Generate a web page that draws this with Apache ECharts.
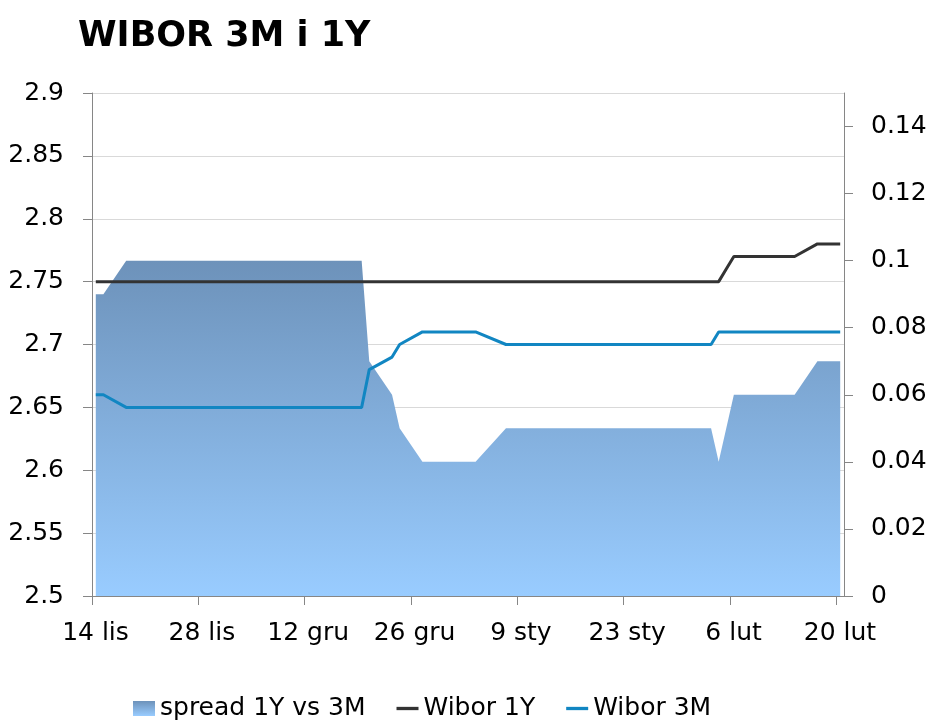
<!DOCTYPE html>
<html><head><meta charset="utf-8">
<script src="https://cdn.jsdelivr.net/npm/echarts@6/dist/echarts.min.js"></script>
<style>html,body{margin:0;padding:0;background:#fff}#c{width:948px;height:728px}</style>
</head><body><div id="c"></div>
<script>
const dates = [
'2013-11-14','2013-11-15','2013-11-18','2013-11-19','2013-11-20','2013-11-21','2013-11-22','2013-11-25','2013-11-26','2013-11-27','2013-11-28','2013-11-29',
'2013-12-02','2013-12-03','2013-12-04','2013-12-05','2013-12-06','2013-12-09','2013-12-10','2013-12-11','2013-12-12','2013-12-13','2013-12-16','2013-12-17','2013-12-18','2013-12-19','2013-12-20','2013-12-23','2013-12-24','2013-12-27','2013-12-30','2013-12-31',
'2014-01-02','2014-01-03','2014-01-07','2014-01-08','2014-01-09','2014-01-10','2014-01-13','2014-01-14','2014-01-15','2014-01-16','2014-01-17','2014-01-20','2014-01-21','2014-01-22','2014-01-23','2014-01-24','2014-01-27','2014-01-28','2014-01-29','2014-01-30','2014-01-31',
'2014-02-03','2014-02-04','2014-02-05','2014-02-06','2014-02-07','2014-02-10','2014-02-11','2014-02-12','2014-02-13','2014-02-14','2014-02-17','2014-02-18','2014-02-19','2014-02-20'
];
const wibor1Y = [
2.75,2.75,2.75,2.75,2.75,2.75,2.75,2.75,2.75,2.75,2.75,2.75,
2.75,2.75,2.75,2.75,2.75,2.75,2.75,2.75,2.75,2.75,2.75,2.75,2.75,2.75,2.75,2.75,2.75,2.75,2.75,2.75,
2.75,2.75,2.75,2.75,2.75,2.75,2.75,2.75,2.75,2.75,2.75,2.75,2.75,2.75,2.75,2.75,2.75,2.75,2.75,2.75,2.75,
2.75,2.75,2.76,2.77,2.77,2.77,2.77,2.77,2.77,2.77,2.78,2.78,2.78,2.78
];
const wibor3M = [
2.66,2.66,2.65,2.65,2.65,2.65,2.65,2.65,2.65,2.65,2.65,2.65,
2.65,2.65,2.65,2.65,2.65,2.65,2.65,2.65,2.65,2.65,2.65,2.65,2.65,2.65,2.68,2.69,2.70,2.71,2.71,2.71,
2.71,2.71,2.70,2.70,2.70,2.70,2.70,2.70,2.70,2.70,2.70,2.70,2.70,2.70,2.70,2.70,2.70,2.70,2.70,2.70,2.70,
2.70,2.71,2.71,2.71,2.71,2.71,2.71,2.71,2.71,2.71,2.71,2.71,2.71,2.71
];
const spread = [
0.09,0.09,0.10,0.10,0.10,0.10,0.10,0.10,0.10,0.10,0.10,0.10,
0.10,0.10,0.10,0.10,0.10,0.10,0.10,0.10,0.10,0.10,0.10,0.10,0.10,0.10,0.07,0.06,0.05,0.04,0.04,0.04,
0.04,0.04,0.05,0.05,0.05,0.05,0.05,0.05,0.05,0.05,0.05,0.05,0.05,0.05,0.05,0.05,0.05,0.05,0.05,0.05,0.05,
0.05,0.04,0.05,0.06,0.06,0.06,0.06,0.06,0.06,0.06,0.07,0.07,0.07,0.07
];
const xTickLabels = ['14 lis','28 lis','12 gru','26 gru','9 sty','23 sty','6 lut','20 lut'];
const rightTickLabels = ['0','0.02','0.04','0.06','0.08','0.1','0.12','0.14'];
const seriesNames = ['spread 1Y vs 3M','Wibor 1Y','Wibor 3M'];

const DAY = 86400000;
const start = Date.UTC(2013,10,14);
function dayPos(s){const p=s.split('-');return (Date.UTC(+p[0],+p[1]-1,+p[2])-start)/DAY+0.5;}
const xs = dates.map(dayPos);
const pair = arr => arr.map((v,i)=>[xs[i],v]);
const xTickVals = xTickLabels.map((_,i)=>i*14);
const rightTickVals = rightTickLabels.map(Number);

const FONT = 'Verdana, "DejaVu Sans", sans-serif';
const axisGray = '#868686';
const grad = new echarts.graphic.LinearGradient(0,0,0,1,[{offset:0,color:'#6d92ba'},{offset:1,color:'#99ccff'}]);
const gradIcon = new echarts.graphic.LinearGradient(0,0,0,1,[{offset:0,color:'#6d92ba'},{offset:1,color:'#99ccff'}]);

const chart = echarts.init(document.getElementById('c'), null, {renderer:'canvas'});
chart.setOption({
  animation:false,
  backgroundColor:'#fff',
  title:{text:'WIBOR 3M i 1Y',left:73,top:14,textStyle:{fontFamily:FONT,fontWeight:'bold',fontSize:35,color:'#000'}},
  grid:{left:92,right:104,top:93,bottom:132,containLabel:false},
  legend:{
    left:128, top:691, itemWidth:22, itemHeight:15, itemGap:31,
    textStyle:{fontFamily:FONT,fontSize:25,color:'#000'},
    data:[
      {name:seriesNames[0],icon:'rect',itemStyle:{color:gradIcon}},
      {name:seriesNames[1],icon:'path://M0,0H20V3H0Z',itemStyle:{color:'#333333'}},
      {name:seriesNames[2],icon:'path://M0,0H20V3H0Z',itemStyle:{color:'#1186c2'}}
    ]
  },
  xAxis:{
    type:'value', min:0, max:99, interval:14,
    axisLine:{show:true,lineStyle:{color:axisGray,width:1}},
    axisTick:{show:true,inside:false,length:9,lineStyle:{color:axisGray},customValues:xTickVals},
    axisLabel:{fontFamily:FONT,fontSize:25,color:'#000',margin:25,customValues:xTickVals,
      formatter:v=>{const i=Math.round(v/14);return '{a|'+(xTickLabels[i]||'')+'}';},
      rich:{a:{fontFamily:FONT,fontSize:25,color:'#000',padding:[0,0,0,7]}}},
    splitLine:{show:false}
  },
  yAxis:[
    {type:'value',min:2.5,max:2.9,interval:0.05,position:'left',
     axisLine:{show:true,lineStyle:{color:axisGray}},
     axisTick:{show:true,length:9,lineStyle:{color:axisGray}},
     axisLabel:{fontFamily:FONT,fontSize:25,color:'#000',margin:28},
     splitLine:{show:true,lineStyle:{color:'#d9d9d9',width:1}}},
    {type:'value',min:0,max:0.15,interval:0.02,position:'right',
     axisLine:{show:true,lineStyle:{color:axisGray}},
     axisTick:{show:true,length:9,lineStyle:{color:axisGray},customValues:rightTickVals},
     axisLabel:{fontFamily:FONT,fontSize:25,color:'#000',margin:27,customValues:rightTickVals,
       formatter:v=>{const i=rightTickVals.findIndex(t=>Math.abs(t-v)<1e-9);return i>=0?rightTickLabels[i]:'';}},
     splitLine:{show:false}}
  ],
  series:[
    {name:seriesNames[0],type:'line',yAxisIndex:1,data:pair(spread),symbol:'none',
     lineStyle:{width:0,color:'#7a9cc4'},itemStyle:{color:'#7a9cc4'},areaStyle:{color:grad,opacity:1},z:1},
    {name:seriesNames[1],type:'line',yAxisIndex:0,data:pair(wibor1Y),symbol:'none',
     lineStyle:{width:3,color:'#333333'},itemStyle:{color:'#333333'},z:3},
    {name:seriesNames[2],type:'line',yAxisIndex:0,data:pair(wibor3M),symbol:'none',
     lineStyle:{width:3,color:'#1186c2'},itemStyle:{color:'#1186c2'},z:3}
  ]
});
</script></body></html>
